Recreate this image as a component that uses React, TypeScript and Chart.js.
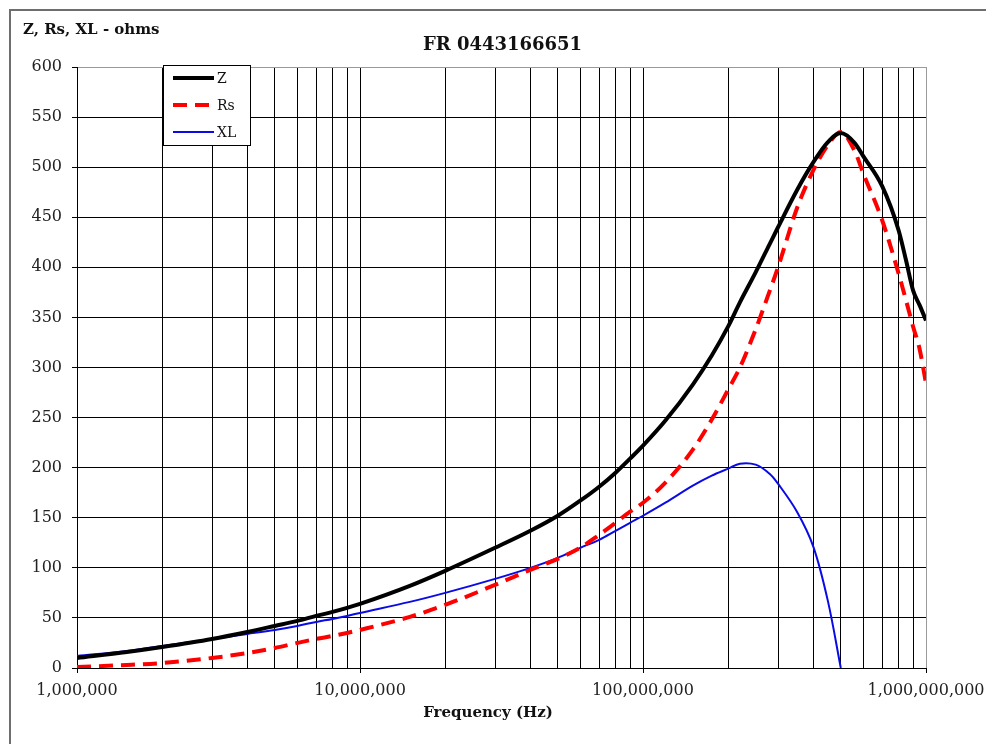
import React, { useEffect, useRef } from "react";
import { Chart, registerables } from "chart.js";

Chart.register(...registerables);

// ---- data ----
const frequencyHz = [
  1e6, 1.5e6, 2e6, 3e6, 4e6, 5e6, 6e6, 7e6, 8e6, 9e6,
  1e7, 1.5e7, 2e7, 3e7, 4e7, 5e7, 6e7, 7e7, 8e7, 9e7,
  1e8, 1.2e8, 1.5e8, 1.75e8, 2e8, 2.2e8, 2.5e8, 2.8e8, 3e8, 3.5e8,
  4e8, 4.5e8, 5e8, 5.6e8, 6e8, 7e8, 8e8, 8.5e8, 9e8, 9.5e8, 1e9,
];
const zOhms = [
  10, 16, 21, 29, 36, 42, 47, 52, 56, 60,
  64, 82, 97, 120, 137, 152, 167, 181, 195, 209,
  222, 247, 283, 312, 341, 365, 395, 423, 440, 477,
  505, 525, 534, 524, 511, 481, 437, 407, 377, 362, 347,
];
const rsOhms = [
  1, 3, 5, 10, 15, 20, 25, 29, 32, 35,
  38, 51, 63, 83, 98, 109, 120, 133, 145, 156,
  165, 185, 218, 248, 278, 300, 338, 376, 400, 459,
  497, 522, 535, 516, 494, 447, 394, 367, 341, 318, 284,
];
const xlOhms = [
  12, 17, 22, 29, 34, 38, 42, 46, 49, 52,
  55, 66, 75, 89, 100, 110, 120, 128, 137, 145,
  152, 165, 182, 192, 199, 204, 203, 194, 184, 156,
  121, 67, 0, null, null, null, null, null, null, null, null,
];
const xTickValues = [
  1e6, 2e6, 3e6, 4e6, 5e6, 6e6, 7e6, 8e6, 9e6,
  1e7, 2e7, 3e7, 4e7, 5e7, 6e7, 7e7, 8e7, 9e7,
  1e8, 2e8, 3e8, 4e8, 5e8, 6e8, 7e8, 8e8, 9e8,
  1e9,
];
const xLabelledTicks = [1e6, 1e7, 1e8, 1e9];
const seriesNames = ["Z", "Rs", "XL"];
const chartTitle = "FR 0443166651";
const yAxisTitle = "Z, Rs, XL - ohms";
const xAxisTitle = "Frequency (Hz)";

const FONT = "'DejaVu Serif', 'Liberation Serif', serif";

const toPoints = (ys: (number | null)[]) =>
  frequencyHz.map((f, i) => ({ x: f, y: ys[i] }));

const decorPlugin = {
  id: "decor",
  beforeDraw(chart: any) {
    const ctx = chart.ctx;
    ctx.save();
    ctx.fillStyle = "#ffffff";
    ctx.fillRect(0, 0, chart.width, chart.height);
    ctx.strokeStyle = "#6e6e6e";
    ctx.lineWidth = 2;
    ctx.beginPath();
    ctx.moveTo(10, chart.height);
    ctx.lineTo(10, 10);
    ctx.lineTo(chart.width, 10);
    ctx.stroke();
    ctx.restore();
  },
  afterDraw(chart: any) {
    const ctx = chart.ctx;
    const area = chart.chartArea;
    ctx.save();
    // titles
    ctx.fillStyle = "#111";
    ctx.textBaseline = "middle";
    ctx.font = `bold 18px ${FONT}`;
    ctx.textAlign = "center";
    ctx.fillText(chartTitle, (area.left + area.right) / 2 + 1, 45);
    ctx.font = `bold 15px ${FONT}`;
    ctx.textAlign = "left";
    ctx.fillText(yAxisTitle, 23, 30);
    ctx.textAlign = "center";
    ctx.fillText(xAxisTitle, 488, 713);

    // legend
    const bx = 163.5, by = 65.5, bw = 87, bh = 80;
    ctx.fillStyle = "#ffffff";
    ctx.fillRect(bx, by, bw, bh);
    ctx.strokeStyle = "#000";
    ctx.lineWidth = 1;
    ctx.setLineDash([]);
    ctx.strokeRect(bx, by, bw, bh);
    const rows = [78, 105, 132];
    chart.data.datasets.forEach((ds: any, i: number) => {
      const y = rows[i];
      ctx.beginPath();
      ctx.strokeStyle = ds.borderColor;
      ctx.lineWidth = ds.borderWidth;
      ctx.setLineDash(ds.borderDash || []);
      ctx.moveTo(173, y);
      ctx.lineTo(214, y);
      ctx.stroke();
      ctx.setLineDash([]);
      ctx.fillStyle = "#111";
      ctx.font = `14px ${FONT}`;
      ctx.textAlign = "left";
      ctx.textBaseline = "middle";
      ctx.fillText(ds.label, 217, y + 1);
    });
    ctx.restore();
  },
};

export default function App() {
  const canvasRef = useRef<HTMLCanvasElement | null>(null);

  useEffect(() => {
    if (!canvasRef.current) return;
    const chart = new Chart(canvasRef.current, {
      type: "line",
      data: {
        datasets: [
          {
            label: seriesNames[0],
            data: toPoints(zOhms),
            borderColor: "#000000",
            borderWidth: 4,
            pointRadius: 0,
            cubicInterpolationMode: "monotone",
            fill: false,
          },
          {
            label: seriesNames[1],
            data: toPoints(rsOhms),
            borderColor: "#ff0000",
            borderWidth: 4,
            borderDash: [14, 8],
            pointRadius: 0,
            cubicInterpolationMode: "monotone",
            fill: false,
          },
          {
            label: seriesNames[2],
            data: toPoints(xlOhms),
            borderColor: "#0a0ae6",
            borderWidth: 2,
            pointRadius: 0,
            tension: 0.35,
            fill: false,
            spanGaps: false,
          },
        ],
      } as any,
      options: {
        responsive: false,
        animation: false,
        devicePixelRatio: 1,
        layout: { padding: { left: 0, top: 67, right: 60, bottom: 0 } },
        plugins: {
          legend: { display: false },
          title: { display: false },
          tooltip: { enabled: false },
        },
        scales: {
          x: {
            type: "logarithmic",
            min: 1e6,
            max: 1e9,
            afterBuildTicks: (scale: any) => {
              scale.ticks = xTickValues.map((v) => ({ value: v }));
            },
            afterFit: (scale: any) => {
              scale.height = 76;
              scale.paddingLeft = 0;
              scale.paddingRight = 0;
            },
            ticks: {
              autoSkip: false,
              maxRotation: 0,
              minRotation: 0,
              padding: 8,
              color: "#222",
              font: { family: FONT, size: 16 },
              callback: (v: any) =>
                xLabelledTicks.includes(Number(v))
                  ? Number(v).toLocaleString("en-US")
                  : "",
            },
            grid: {
              color: (c: any) =>
                c.tick && c.tick.value === 1e9 ? "#9a9a9a" : "#000000",
              lineWidth: 1,
              tickLength: 5,
              tickColor: (c: any) =>
                c.tick && xLabelledTicks.includes(c.tick.value)
                  ? "#000000"
                  : "rgba(0,0,0,0)",
            },
            border: { color: "#000000", width: 1 },
          },
          y: {
            type: "linear",
            min: 0,
            max: 600,
            afterFit: (scale: any) => {
              scale.width = 77;
            },
            ticks: {
              stepSize: 50,
              padding: 10,
              color: "#222",
              font: { family: FONT, size: 16 },
            },
            grid: {
              color: (c: any) =>
                c.tick && c.tick.value === 600 ? "#9a9a9a" : "#000000",
              lineWidth: 1,
              tickLength: 5,
              tickColor: "#000000",
            },
            border: { color: "#000000", width: 1 },
          },
        },
      } as any,
      plugins: [decorPlugin],
    });
    return () => chart.destroy();
  }, []);

  return (
    <div style={{ position: "fixed", left: 0, top: 0, width: 986, height: 744 }}>
      <canvas ref={canvasRef} width={986} height={744} style={{ display: "block" }} />
    </div>
  );
}
